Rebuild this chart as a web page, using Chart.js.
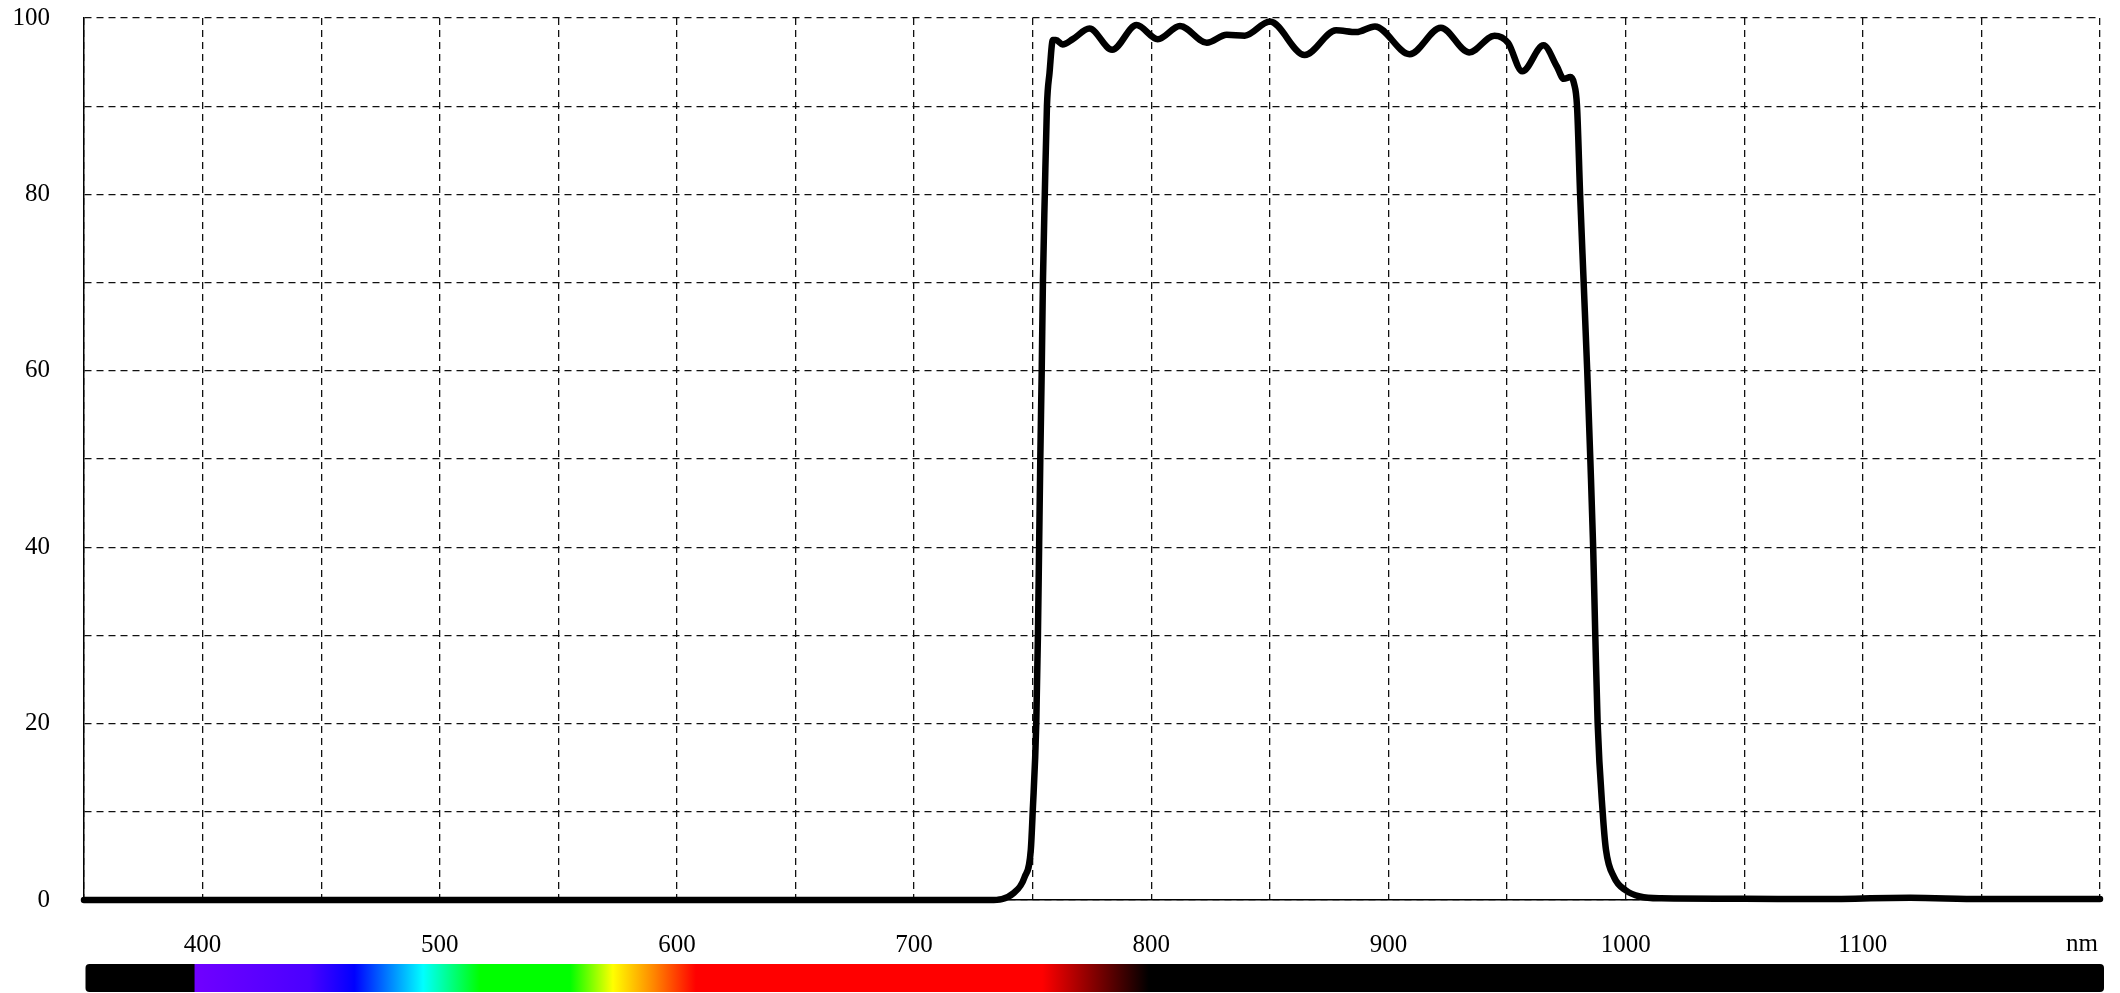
<!DOCTYPE html>
<html lang="en">
<head>
    <meta charset="UTF-8">
    <title>Transmission curve</title>
    <script src="https://cdn.jsdelivr.net/npm/chart.js"></script>
    <style>
        body { margin: 0; background: #fff; }
        #wrap { width: 2120px; height: 993px; }
    </style>
</head>
<body>
    <div id="wrap"><canvas id="curve"></canvas></div>
    <script>
        // wavelength (nm) and transmission (%)
        var wavelengths = [350, 700, 732, 742, 746.6, 749.2, 750, 751.5, 752.2, 752.7, 753.2, 753.8, 754.3, 755.1, 756, 757.1,
            758.5, 759.8, 762.6, 766.9, 773.9, 783.5, 793.8, 802.7, 812.1, 823.4, 831.8, 839.4, 850, 864.7, 877.9, 886.4,
            894.3, 908.9, 922.1, 934, 944.7, 950.4, 956.4, 965.4, 971, 973.9, 976.7, 978.2, 979.5, 980.8, 982.3, 983.8,
            985.1, 986.3, 987.2, 988.2, 990.3, 991.7, 995.1, 1000, 1006, 1015, 1050, 1080, 1120, 1150, 1200];
        var transmission = [0, 0, 0, 0.8, 2.6, 5.7, 10, 20, 30, 40, 50, 60, 70, 80, 90, 93.8,
            97.5, 97.5, 97, 97.6, 98.8, 96.4, 99.2, 97.6, 99.1, 97.2, 98.1, 98, 99.6, 95.8, 98.6, 98.4,
            99.05, 95.9, 98.9, 96.1, 98, 97.2, 93.95, 96.9, 94.5, 93.1, 93.3, 92.6, 90, 80, 70, 60,
            50, 40, 30, 20, 10, 5.7, 2.6, 1.1, 0.4, 0.2, 0.15, 0.1, 0.25, 0.1, 0.1];

        var xMin = 350, xMax = 1200;
        var xLabels = [400, 500, 600, 700, 800, 900, 1000, 1100];
        var yLabels = [0, 20, 40, 60, 80, 100];
        var unitLabel = 'nm';

        // colour band under the axis: [nm, colour]
        var spectrumStops = [
            [350, '#000000'], [396.5, '#000000'], [396.7, '#7000ff'], [445, '#4a00ff'], [464, '#0000ff'],
            [493, '#00ffff'], [517, '#00ff00'], [555, '#00ff00'], [573, '#ffff00'], [590, '#ff8800'],
            [608, '#ff0000'], [754, '#ff0000'], [799, '#000000'], [1200, '#000000']
        ];

        var points = wavelengths.map(function (w, i) { return { x: w, y: transmission[i] }; });

        var spectrumPlugin = {
            id: 'spectrum',
            afterDraw: function (chart) {
                var ctx = chart.ctx, x = chart.scales.x, area = chart.chartArea;
                var x0 = x.getPixelForValue(xMin) + 1.5;
                var x1 = x.getPixelForValue(xMax) + 4;
                var top = area.bottom + 64, h = 28;
                var grad = ctx.createLinearGradient(x0, 0, x1, 0);
                spectrumStops.forEach(function (s) {
                    var off = (x.getPixelForValue(s[0]) - x0) / (x1 - x0);
                    grad.addColorStop(Math.min(1, Math.max(0, off)), s[1]);
                });
                ctx.save();
                ctx.fillStyle = grad;
                ctx.beginPath();
                ctx.roundRect(x0, top, x1 - x0, h, 4);
                ctx.fill();
                // unit label at the right end of the x axis
                ctx.fillStyle = '#000';
                ctx.font = '25px "Liberation Serif"';
                ctx.textAlign = 'right';
                ctx.textBaseline = 'middle';
                ctx.fillText(unitLabel, x.getPixelForValue(xMax) - 2, area.bottom + 44);
                ctx.restore();
            }
        };

        new Chart(document.getElementById('curve'), {
            type: 'line',
            data: {
                datasets: [{
                    data: points,
                    borderColor: '#000',
                    borderWidth: 6.5,
                    borderCapStyle: 'round',
                    borderJoinStyle: 'round',
                    pointRadius: 0,
                    cubicInterpolationMode: 'monotone',
                    clip: false
                }]
            },
            options: {
                responsive: true,
                maintainAspectRatio: false,
                animation: false,
                layout: { padding: { left: 12, right: 20, top: 18, bottom: 35 } },
                plugins: { legend: { display: false }, tooltip: { enabled: false } },
                scales: {
                    x: {
                        type: 'linear',
                        min: xMin,
                        max: xMax,
                        border: { display: true, color: '#000', width: 1.5, dash: [7, 5] },
                        grid: { color: '#111', lineWidth: 1.3, drawTicks: false },
                        ticks: {
                            stepSize: 50,
                            autoSkip: false,
                            maxRotation: 0,
                            padding: 30,
                            color: '#000',
                            font: { family: '"Liberation Serif"', size: 25 },
                            callback: function (v) { return xLabels.indexOf(v) >= 0 ? String(v) : ''; }
                        },
                        afterFit: function (s) { s.height = 58; s.paddingLeft = 0; s.paddingRight = 0; }
                    },
                    y: {
                        min: 0,
                        max: 100,
                        border: { display: true, color: '#000', width: 1.5, dash: [7, 5] },
                        grid: { color: '#111', lineWidth: 1.3, drawTicks: false },
                        ticks: {
                            stepSize: 10,
                            autoSkip: false,
                            padding: 34,
                            color: '#000',
                            font: { family: '"Liberation Serif"', size: 25 },
                            callback: function (v) { return yLabels.indexOf(v) >= 0 ? String(v) : ''; }
                        },
                        afterFit: function (s) { s.width = 72; s.paddingTop = 0; s.paddingBottom = 0; }
                    }
                }
            },
            plugins: [spectrumPlugin]
        });
    </script>
</body>
</html>
